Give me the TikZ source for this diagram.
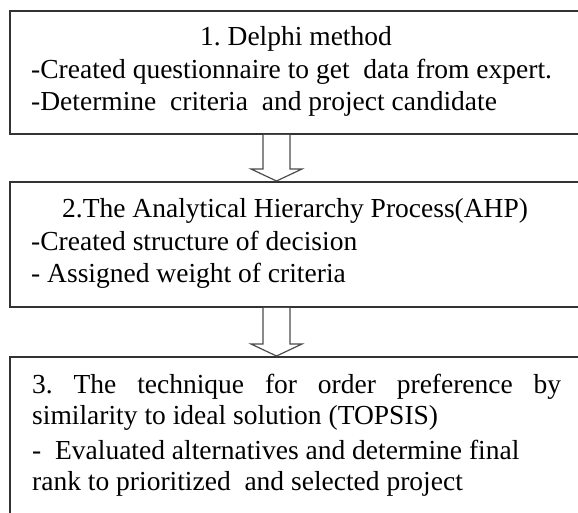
\documentclass[tikz,border=0pt]{standalone}
\usepackage{fontspec}
\setmainfont{Liberation Serif}
\usetikzlibrary{calc}
\frenchspacing

\tikzset{
  stagebox/.style={draw=black!80, line width=1.8pt, fill=white, inner sep=0pt,
    minimum width=640pt, anchor=north west},
  txt/.style={inner sep=0pt, anchor=base west,
    font=\fontsize{27.5pt}{33pt}\selectfont},
  blockarrow/.style={draw=black!70, line width=1.2pt, fill=white, line join=miter},
}

% hollow down-arrow from the bottom of one box to the top of the next
\newcommand\flowarrow[2]{%
  \draw[blockarrow] let \p1=(#1.south west), \p2=(#2.north west) in
    (\x1+254pt,\y1) -- (\x1+254pt,\y2+12pt) -- (\x1+242pt,\y2+12pt)
    -- (\x1+267.5pt,\y2) -- (\x1+293pt,\y2+12pt) -- (\x1+281pt,\y2+12pt)
    -- (\x1+281pt,\y1);}
% a wider word gap
\newcommand\wgap{\hspace{0.5em}}

\begin{document}
\begin{tikzpicture}[x=1pt,y=1pt]
\useasboundingbox (0,0) rectangle (578,-512);
\clip (0,0) rectangle (578,-512);

% stage boxes (they run past the right and bottom edges)
\node[stagebox, minimum height=123pt] (b1) at (9,-10) {};
\node[stagebox, minimum height=125pt] (b2) at (9,-181) {};
\node[stagebox, minimum height=200pt] (b3) at (9,-356) {};

\flowarrow{b1}{b2}
\flowarrow{b2}{b3}

% stage 1
\node[txt, anchor=base] (t11) at (296,-45) {1. Delphi method};
\node[txt] (t12) at (31,-78) {-Created questionnaire to get\wgap data from expert.};
\node[txt] (t13) at (31,-110) {-Determine\wgap criteria\wgap and project candidate};

% stage 2
\node[txt] (t21) at (62,-217) {2.The Analytical Hierarchy Process(AHP)};
\node[txt] (t22) at (31,-250) {-Created structure of decision};
\node[txt] (t23) at (31,-282) {- Assigned weight of criteria};

% stage 3
\node[txt] (t31) at (32,-393) {\makebox[529pt][s]{3. The technique for order preference by}};
\node[txt] (t32) at (32,-424) {similarity to ideal solution (TOPSIS)};
\node[txt] (t33) at (32,-459) {-\wgap Evaluated alternatives and determine final};
\node[txt] (t34) at (32,-490) {rank to prioritized\wgap and selected project};
\end{tikzpicture}
\end{document}
